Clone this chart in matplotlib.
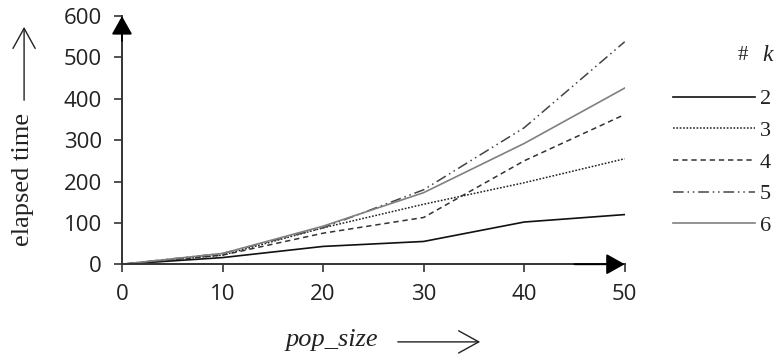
"""Elapsed time vs pop_size for several k."""

import matplotlib.pyplot as plt

pop_size = [0, 10, 20, 30, 40, 50]
k_labels = ["2", "3", "4", "5", "6"]
t_k2 = [0, 16, 43, 55, 102, 120]
t_k3 = [0, 22, 88, 145, 197, 255]
t_k4 = [0, 22, 75, 113, 250, 362]
t_k5 = [0, 26, 88, 180, 330, 538]
t_k6 = [0, 26, 92, 173, 292, 426]

SERIF = "Liberation Serif"
SANS = "Open Sans"
INK = "#222222"


def main() -> None:
    fig = plt.figure(figsize=(7.77, 3.58), dpi=100)
    ax = fig.add_axes([0.157, 0.262, 0.647, 0.693])

    styles = [
        dict(color="#111111", linestyle="-", linewidth=1.2),
        dict(color="#222222", linestyle=(0, (1.1, 1.1)), linewidth=1.1),
        dict(color="#333333", linestyle=(0, (3.5, 2.5)), linewidth=1.1),
        dict(color="#444444", linestyle=(0, (7, 2.5, 1, 2.5, 1, 2.5)), linewidth=1.1),
        dict(color="#808080", linestyle="-", linewidth=1.2),
    ]
    series = [t_k2, t_k3, t_k4, t_k5, t_k6]
    for vals, lab, st in zip(series, k_labels, styles):
        ax.plot(pop_size, vals, label=lab, **st)

    ax.set_xlim(0, 50)
    ax.set_ylim(0, 600)
    ax.set_xticks(range(0, 51, 10))
    ax.set_yticks(range(0, 601, 100))
    for s in ("top", "right"):
        ax.spines[s].set_visible(False)
    for s in ("left", "bottom"):
        ax.spines[s].set_color("#333333")
        ax.spines[s].set_linewidth(1.4)
    ax.tick_params(length=5.5, width=1.2, color="#333333", labelsize=16)
    ax.tick_params(axis="y", pad=9)
    ax.tick_params(axis="x", pad=9)
    for lbl in ax.get_xticklabels() + ax.get_yticklabels():
        lbl.set_fontfamily(SANS)
        lbl.set_color(INK)

    # filled arrowheads at the axis ends
    head = dict(arrowstyle="-|>,head_length=0.8,head_width=0.45",
                mutation_scale=14, color="black", lw=1.4, shrinkA=0, shrinkB=0)
    ax.annotate("", xy=(0, 1), xytext=(0, 0.9), xycoords="axes fraction",
                arrowprops=head, annotation_clip=False)
    ax.annotate("", xy=(1, 0), xytext=(0.9, 0), xycoords="axes fraction",
                arrowprops=head, annotation_clip=False)

    # axis labels with open arrows
    open_arrow = dict(arrowstyle="->,head_length=1.45,head_width=0.8",
                      lw=1.0, color=INK, shrinkA=0, shrinkB=0)
    fig.text(0.029, 0.5, "elapsed time", rotation=90, ha="center", va="center",
             fontsize=19, family=SERIF, color=INK)
    fig.add_artist(plt.Annotation("", xy=(0.031, 0.925), xytext=(0.031, 0.72),
                                  xycoords="figure fraction", arrowprops=open_arrow))
    fig.text(0.427, 0.05, "pop_size", ha="center", va="center",
             fontsize=19, family=SERIF, style="italic", color=INK)
    fig.add_artist(plt.Annotation("", xy=(0.618, 0.045), xytext=(0.512, 0.045),
                                  xycoords="figure fraction", arrowprops=open_arrow))

    leg = fig.legend(loc="upper left", bbox_to_anchor=(0.866, 0.752), frameon=False,
                     handlelength=3.7, handletextpad=0.2, labelspacing=0.5,
                     borderpad=0, borderaxespad=0,
                     prop=dict(family=SERIF, size=16))
    for t in leg.get_texts():
        t.set_color(INK)
    # legend heading: "# k"
    fig.text(0.963, 0.845, "#", ha="right", va="center", fontsize=15,
             family=SERIF, color=INK)
    fig.text(0.995, 0.845, "k", ha="right", va="center", fontsize=17,
             family=SERIF, style="italic", color=INK)

    fig.savefig("out.png", dpi=100)


if __name__ == "__main__":
    main()
